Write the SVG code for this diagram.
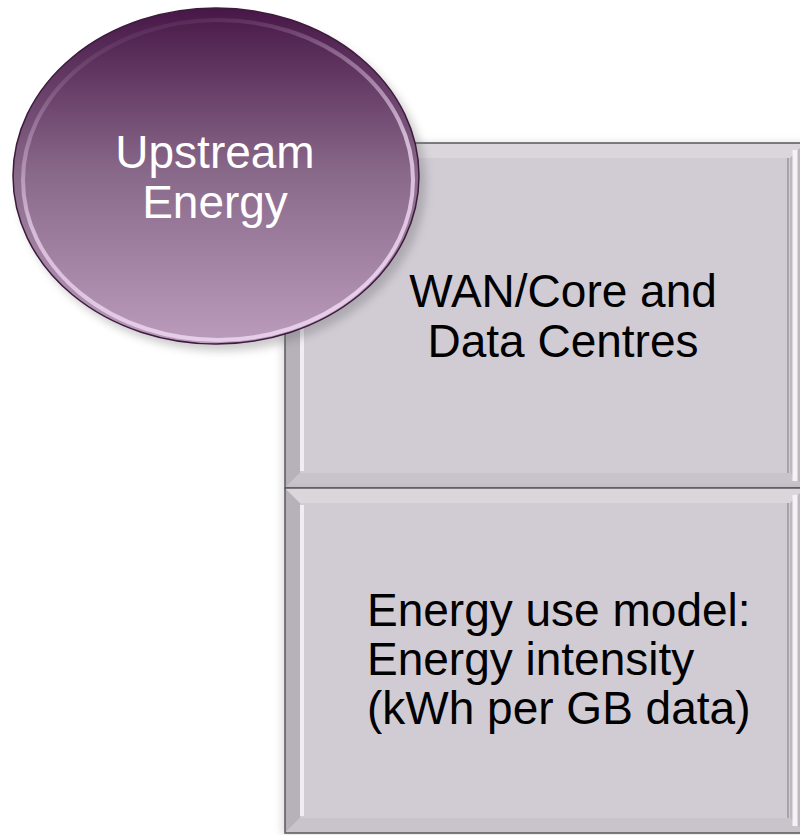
<svg xmlns="http://www.w3.org/2000/svg" width="800" height="835" viewBox="0 0 800 835">
  <style>
    .lbl { font-family: "Liberation Sans", Arial, sans-serif; font-size: 46px; }
    .dark { fill: #000000; }
    .light { fill: #ffffff; }
    .box-edge { fill: none; stroke: #5a575c; stroke-width: 1.5; }
    .face { fill: #d1ccd4; }
    .bev-l { fill: #b7b2ba; }
    .bev-t { fill: #dad6dc; }
    .bev-r { fill: #bdb8c0; }
    .bev-b { fill: #c9c4cc; }
    .hl { fill: none; stroke: #f0eef2; stroke-width: 4; }
  </style>
  <defs>
    <linearGradient id="orbFill" x1="0" y1="0" x2="0" y2="1">
      <stop offset="0" stop-color="#471747"/>
      <stop offset="0.5" stop-color="#8a6a8b"/>
      <stop offset="1" stop-color="#bb9cbd"/>
    </linearGradient>
    <linearGradient id="orbRim" x1="0" y1="0" x2="0.3" y2="1">
      <stop offset="0" stop-color="#6a3f69" stop-opacity="0"/>
      <stop offset="0.3" stop-color="#b996bb" stop-opacity="0.5"/>
      <stop offset="0.6" stop-color="#dcc2de" stop-opacity="0.9"/>
      <stop offset="1" stop-color="#e6cde8"/>
    </linearGradient>
    <filter id="soft" x="-10%" y="-10%" width="130%" height="130%">
      <feGaussianBlur stdDeviation="4"/>
    </filter>
  </defs>

  <rect width="800" height="835" fill="#ffffff"/>

  <!-- top panel: WAN/Core and Data Centres -->
  <g id="panel-wan">
    <rect x="282" y="143" width="530" height="345" fill="#9a969c" opacity="0.35" filter="url(#soft)"/>
    <rect class="face" x="285" y="143" width="520" height="345"/>
    <polygon class="bev-l" points="285,143 300,158 300,473 285,488"/>
    <polygon class="bev-t" points="285,143 805,143 790,158 300,158"/>
    <polygon class="bev-r" points="805,143 805,488 790,473 790,158"/>
    <polygon class="bev-b" points="285,488 300,473 790,473 805,488"/>
    <line class="hl" x1="302" y1="160" x2="302" y2="471"/>
    <line x1="788" y1="158" x2="788" y2="473" stroke="#a8a3ab" stroke-width="2"/>
    <line x1="795" y1="150" x2="795" y2="481" stroke="#f4f2f5" stroke-width="5"/>
    <rect class="box-edge" x="285" y="143" width="520" height="345"/>
    <text class="lbl dark" x="563" y="307" text-anchor="middle">WAN/Core and</text>
    <text class="lbl dark" x="563" y="357" text-anchor="middle">Data Centres</text>
  </g>

  <!-- bottom panel: energy use model -->
  <g id="panel-model">
    <rect x="282" y="488" width="530" height="347" fill="#9a969c" opacity="0.35" filter="url(#soft)"/>
    <rect class="face" x="285" y="488" width="520" height="345"/>
    <polygon class="bev-l" points="285,488 300,503 300,818 285,833"/>
    <polygon class="bev-t" points="285,488 805,488 790,503 300,503"/>
    <polygon class="bev-r" points="805,488 805,833 790,818 790,503"/>
    <polygon class="bev-b" points="285,833 300,818 790,818 805,833"/>
    <line class="hl" x1="302" y1="505" x2="302" y2="816"/>
    <line x1="788" y1="503" x2="788" y2="818" stroke="#a8a3ab" stroke-width="2"/>
    <line x1="795" y1="495" x2="795" y2="826" stroke="#f4f2f5" stroke-width="5"/>
    <rect class="box-edge" x="285" y="488" width="520" height="345"/>
    <text class="lbl dark" x="367" y="626">Energy use model:</text>
    <text class="lbl dark" x="367" y="675">Energy intensity</text>
    <text class="lbl dark" x="367" y="724">(kWh per GB data)</text>
  </g>

  <!-- orb: Upstream Energy -->
  <g id="orb-upstream">
    <ellipse cx="222" cy="183" rx="204" ry="168" fill="#6d6a70" opacity="0.35" filter="url(#soft)"/>
    <ellipse cx="216" cy="176" rx="203" ry="168" fill="url(#orbFill)" stroke="#3e1b3d" stroke-width="1.5"/>
    <ellipse cx="218" cy="180" rx="195" ry="160" fill="none" stroke="url(#orbRim)" stroke-width="4"/>
    <text class="lbl light" x="215" y="168" text-anchor="middle" font-size="47">Upstream</text>
    <text class="lbl light" x="215" y="218" text-anchor="middle" font-size="47">Energy</text>
  </g>
</svg>
